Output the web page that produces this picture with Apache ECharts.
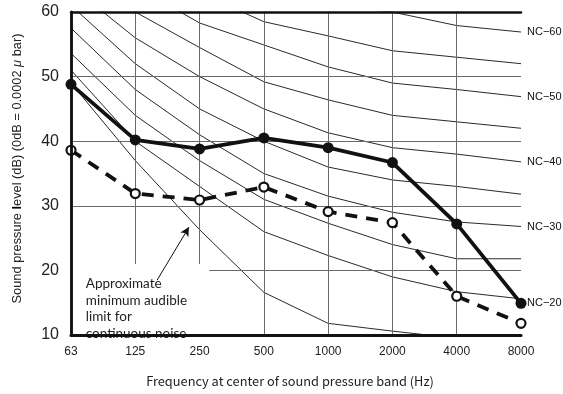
<!DOCTYPE html>
<html>
<head>
<meta charset="utf-8">
<script src="https://cdn.jsdelivr.net/npm/echarts@6/dist/echarts.min.js"></script>
<style>html,body{margin:0;padding:0;background:#fff;}#c{width:563px;height:394px;}</style>
</head>
<body>
<div id="c"></div>
<script>
// ---- data ----
const freqLabels = ['63', '125', '250', '500', '1000', '2000', '4000', '8000'];
const yTicks = [10, 20, 30, 40, 50, 60];
const measured = [48.8, 40.2, 38.8, 40.5, 39.0, 36.7, 27.2, 14.9];
const limitLevels = [38.6, 31.9, 30.9, 32.9, 29.1, 27.4, 16.0, 11.8];
const nc20 = [51, 40, 33, 26, 22.3, 19, 16.7, 15.6];
const nc25 = [53.6, 44, 37, 31, 27.3, 24, 21.8, 21.8];
const nc30 = [57.5, 48, 41, 35, 31.5, 29, 27.5, 26.8];
const nc35 = [61, 52, 45, 40, 36, 34, 33, 31.8];
const nc40 = [64, 56, 50, 45, 41.3, 39, 38, 36.8];
const nc45 = [67, 60, 54.5, 49.2, 46.4, 44, 43, 42];
const nc50 = [71, 64, 58.3, 54.9, 51.5, 49, 48, 46.9];
const nc55 = [74, 67, 63, 58.5, 56.3, 54, 53, 52];
const nc60 = [77, 71, 67, 63, 61, 60, 57.9, 56.9];
const audibleLimit = [49, 37, 26.3, 16.6, 11.8, 10.6, 9.5, 9];
const ncCurves = [
  ['NC−20', nc20, true], ['NC−25', nc25, false], ['NC−30', nc30, true],
  ['NC−35', nc35, false], ['NC−40', nc40, true], ['NC−45', nc45, false],
  ['NC−50', nc50, true], ['NC−55', nc55, false], ['NC−60', nc60, true]
];
const annotationLines = ['Approximate', 'minimum audible', 'limit for', 'continuous noise'];

const toXY = arr => arr.map((v, i) => [i, v]);
const yMin = yTicks[0], yMax = yTicks[yTicks.length - 1];
const xMax = freqLabels.length - 1;

// grid lines (some partial, as in the reference)
const gridLines = [];
[1, 2].forEach(i => gridLines.push([{ coord: [i, yMax] }, { coord: [i, 21] }]));
[3, 4, 5, 6].forEach(i => gridLines.push([{ coord: [i, yMin] }, { coord: [i, yMax] }]));
[30, 40, 50].forEach(v => gridLines.push([{ coord: [0, v] }, { coord: [xMax, v] }]));
gridLines.push([{ coord: [2.15, 20] }, { coord: [xMax, 20] }]);

const FONT = 'Liberation Sans';
const chart = echarts.init(document.getElementById('c'), null, { renderer: 'canvas' });

const series = [];
series.push({
  name: 'gridlines', type: 'line', data: [], silent: true,
  markLine: {
    silent: true, symbol: ['none', 'none'], animation: false,
    label: { show: false },
    lineStyle: { color: '#6a6a6a', width: 1, type: 'solid' },
    data: gridLines
  }
});
ncCurves.forEach(([name, vals, lab]) => {
  series.push({
    name: name, type: 'line', data: toXY(vals), symbol: 'none', clip: true, z: 3,
    lineStyle: { color: '#111', width: 0.9 },
    endLabel: lab ? {
      show: true, formatter: name, distance: 6, fontSize: 11, fontFamily: FONT, color: '#111',
      offset: name === 'NC−20' ? [0, 4] : [0, 0]
    } : { show: false }
  });
});
series.push({
  name: 'audible', type: 'line', data: toXY(audibleLimit), symbol: 'none', clip: true, z: 3,
  lineStyle: { color: '#111', width: 0.9 },
  markLine: {
    silent: true, symbol: ['none', 'arrow'], symbolSize: [7, 9], animation: false,
    label: { show: false },
    lineStyle: { color: '#111', width: 1, type: 'solid' },
    data: [[{ coord: [1.34, 18.5] }, { coord: [1.835, 26.7] }]]
  }
});
series.push({
  name: 'limit', type: 'line', data: toXY(limitLevels), z: 5, clip: false,
  symbol: 'circle', symbolSize: 9,
  itemStyle: { color: '#fff', borderColor: '#111', borderWidth: 2.2 },
  lineStyle: { color: '#111', width: 3.8, type: [12, 9] }
});
series.push({
  name: 'measured', type: 'line', data: toXY(measured), z: 6, clip: false,
  symbol: 'circle', symbolSize: 11,
  itemStyle: { color: '#111' },
  lineStyle: { color: '#111', width: 3.8 }
});

chart.setOption({
  animation: false,
  backgroundColor: '#fff',
  grid: { left: 71, right: 42, top: 12, bottom: 59, containLabel: false },
  xAxis: [{
    type: 'value', min: 0, max: xMax, interval: 1, z: 10,
    axisLine: { show: true, lineStyle: { color: '#111', width: 3 } },
    axisTick: { show: false }, splitLine: { show: false },
    axisLabel: { formatter: v => freqLabels[v] || '', fontSize: 12, fontFamily: FONT, color: '#222', margin: 11 },
    name: 'Frequency at center of sound pressure band (Hz)', nameLocation: 'middle', nameGap: 40,
    nameTextStyle: { fontSize: 12.8, fontFamily: 'Noto Sans CJK JP', color: '#222', padding: [0, 12, 0, 0] }
  }, {
    type: 'value', min: 0, max: xMax, position: 'top', z: 10,
    axisLine: { show: true, lineStyle: { color: '#111', width: 2.5 } },
    axisTick: { show: false }, axisLabel: { show: false }, splitLine: { show: false }
  }],
  yAxis: [{
    type: 'value', min: yMin, max: yMax, interval: 10, z: 10,
    axisLine: { show: true, lineStyle: { color: '#111', width: 2.5 } },
    axisTick: { show: false }, splitLine: { show: false },
    axisLabel: { fontSize: 16, fontFamily: FONT, color: '#222', margin: 12 },
    name: '{a|Sound pressure }{b|l}{a|evel (dB) (0dB = 0.0002 }{c|μ}{a| bar)}',
    nameLocation: 'middle', nameGap: 47, nameRotate: 90,
    nameTextStyle: {
      padding: [0, 0, 0, 10],
      rich: {
        a: { fontSize: 12.8, fontFamily: FONT, color: '#222' },
        b: { fontSize: 12.8, fontFamily: FONT, color: '#000', fontWeight: 'bold' },
        c: { fontSize: 12.8, fontFamily: FONT, color: '#222', fontStyle: 'italic' }
      }
    }
  }, {
    type: 'value', min: yMin, max: yMax, position: 'right', z: 10,
    axisLine: { show: true, lineStyle: { color: '#111', width: 2.5 } },
    axisTick: { show: false }, axisLabel: { show: false }, splitLine: { show: false }
  }],
  series: series
});

// annotation text placed through the axes' scales
const p = chart.convertToPixel({ xAxisIndex: 0, yAxisIndex: 0 }, [0.23, 19.2]);
chart.setOption({
  graphic: [{
    type: 'text', left: p[0], top: p[1], z: 1, silent: true,
    style: {
      text: annotationLines.join('\n'),
      fontSize: 13.5, fontFamily: 'Lato', fill: '#222', lineHeight: 16.5
    }
  }]
});
</script>
</body>
</html>
